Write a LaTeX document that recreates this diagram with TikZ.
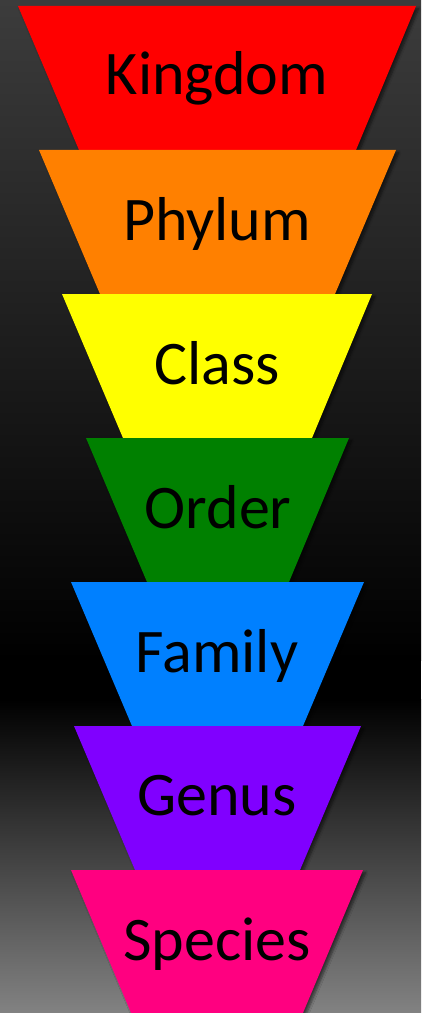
\documentclass[tikz,border=0pt]{standalone}
\usepackage{fontspec}
\setmainfont{Carlito}
\usetikzlibrary{shadows.blur}
\definecolor{cRed}{HTML}{FF0000}
\definecolor{cOrange}{HTML}{FF8000}
\definecolor{cYellow}{HTML}{FFFF00}
\definecolor{cGreen}{HTML}{008000}
\definecolor{cBlue}{HTML}{0080FF}
\definecolor{cPurple}{HTML}{8000FF}
\definecolor{cPink}{HTML}{FF0080}
\definecolor{bgTop}{HTML}{3C3C3C}
\definecolor{bgBot}{HTML}{828282}
\tikzset{
  level/.style={fill=#1, blur shadow={shadow xshift=2pt, shadow yshift=-2pt, shadow blur steps=6, shadow opacity=55}},
  label/.style={anchor=base, text=black, inner sep=0pt, font=\fontsize{46.5pt}{50pt}\selectfont}
}
\begin{document}
\begin{tikzpicture}[x=0.75pt,y=-0.75pt]
\useasboundingbox (0,0) rectangle (421,1013);
\shade[top color=bgTop, bottom color=black] (0,0) rectangle (421,660);
\fill[black] (0,659) rectangle (421,700);
\shade[top color=black, bottom color=bgBot] (0,699) rectangle (421,1013);
% trapezoids
\path[level=cRed]    (18,6)   -- (416,6)   -- (356,150) -- (79,150)  -- cycle;
\path[level=cOrange] (39,150) -- (396,150) -- (335,294) -- (100,294) -- cycle;
\path[level=cYellow] (62,294) -- (372,294) -- (312,438) -- (123,438) -- cycle;
\path[level=cGreen]  (86,438) -- (349,438) -- (289,582) -- (147,582) -- cycle;
\path[level=cBlue]   (71,582) -- (364,582) -- (303,726) -- (132,726) -- cycle;
\path[level=cPurple] (74,726) -- (361,726) -- (300,870) -- (135,870) -- cycle;
\path[level=cPink]   (71,870) -- (363,870) -- (300,1020) -- (134,1020) -- cycle;
% labels
\node[label] (kingdom) at (217,95)  {Kingdom};
\node[label] (phylum)  at (217,240) {Phylum};
\node[label] (class)   at (217,384) {Class};
\node[label] (order)   at (218,528) {Order};
\node[label] (family)  at (217,672) {Family};
\node[label] (genus)   at (217,815) {Genus};
\node[label] (species) at (217,960) {Species};
\end{tikzpicture}
\end{document}
